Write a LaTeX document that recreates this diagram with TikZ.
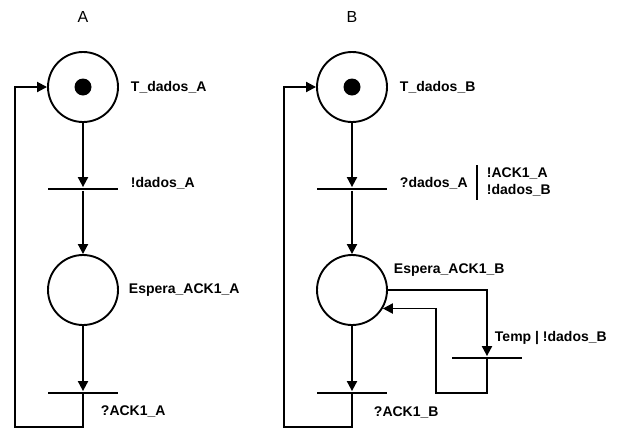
\documentclass[tikz,border=0pt]{standalone}
\usepackage{fontspec}
\setmainfont{Liberation Sans}
\usetikzlibrary{arrows.meta}
\begin{document}
\begin{tikzpicture}[x=1pt,y=-1pt,
  line width=1.9pt,
  arr/.style={-{Triangle[length=10pt,width=10pt]}},
  place/.style={circle,draw,minimum size=70pt,inner sep=0pt},
  trans/.style={rectangle,fill=black,minimum width=70pt,minimum height=1.9pt,inner sep=0pt},
  lbl/.style={anchor=west,inner sep=0pt,font=\fontsize{14}{16}\selectfont\bfseries},
  ttl/.style={inner sep=0pt,font=\fontsize{16}{18}\selectfont},
  token/.style={circle,fill=black,minimum size=17pt,inner sep=0pt}]
\useasboundingbox (0,0) rectangle (618,429);
% ---------- A ----------
\node[ttl] (titA) at (83,17) {A};
\node[place] (pA1) at (83,87) {};
\node[token] (kA) at (83,87) {};
\node[trans] (tA1) at (83,189) {};
\node[place] (pA2) at (83,290) {};
\node[trans] (tA2) at (83,393) {};
\coordinate (cA) at (15,427);
\node[lbl] (lA1) at (130,87) {T\_dados\_A};
\node[lbl] (lA2) at (130,183) {!dados\_A};
\node[lbl] (lA3) at (128,290) {Espera\_ACK1\_A};
\node[lbl] (lA4) at (100,411) {?ACK1\_A};
\draw[arr] (pA1) -- (tA1.north);
\draw[arr] (tA1) -- (pA2);
\draw[arr] (pA2) -- (tA2.north);
\draw[arr] (tA2.center) |- (cA) |- (pA1.west);
% ---------- B ----------
\node[ttl] (titB) at (352,17) {B};
\node[place] (pB1) at (352,87) {};
\node[token] (kB) at (352,87) {};
\node[trans] (tB1) at (352,189) {};
\node[place] (pB2) at (352,290) {};
\node[trans] (tB2) at (352,393) {};
\node[trans] (tT) at (487,358) {};
\coordinate (cB) at (284,427);
\coordinate (c1) at (436,393);
\node[lbl] (lB1) at (399,87) {T\_dados\_B};
\node[lbl] (lB2) at (399,183) {?dados\_A};
\coordinate (barT) at (477,165);
\coordinate (barB) at (477,200);
\draw (barT) -- (barB);
\node[lbl] (lB3) at (486,173) {!ACK1\_A};
\node[lbl] (lB4) at (486,190) {!dados\_B};
\node[lbl] (lB5) at (393,270) {Espera\_ACK1\_B};
\node[lbl] (lB6) at (494,338) {Temp | !dados\_B};
\node[lbl] (lB7) at (373,412) {?ACK1\_B};
\draw[arr] (pB1) -- (tB1.north);
\draw[arr] (tB1) -- (pB2);
\draw[arr] (pB2) -- (tB2.north);
\draw[arr] (tB2.center) |- (cB) |- (pB1.west);
\draw[arr] (pB2.east) -| (tT.north);
\draw[arr] (tT.center) |- (c1) |- (pB2.-31);
\end{tikzpicture}
\end{document}
